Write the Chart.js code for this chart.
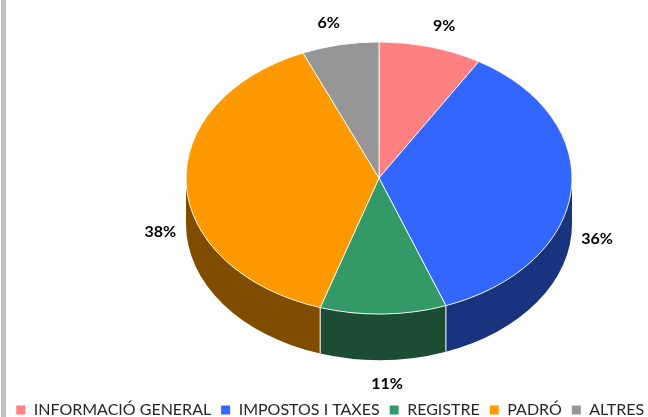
<!DOCTYPE html>
<html>
<head>
<meta charset="utf-8">
<style>
html,body{margin:0;padding:0;background:#fff;overflow:hidden;width:648px;height:417px}
#bar{position:absolute;left:1px;top:0;width:5px;height:417px;background:#bfbfbf}
canvas{position:absolute;left:-10px;top:0}
</style>
<script src="https://cdn.jsdelivr.net/npm/chart.js@4/dist/chart.umd.min.js"></script>
</head>
<body>
<div id="bar"></div>
<canvas id="c" width="680" height="417"></canvas>
<script>
const categories = ['INFORMACIÓ GENERAL','IMPOSTOS I TAXES','REGISTRE','PADRÓ','ALTRES'];
const values = [8.6,35.5,10.5,38.4,6.4];
const topColors = ['#FF8080','#3366FF','#339966','#FF9900','#969696'];
const sideColors = ['#804040','#19337F','#1C4D33','#804D00','#4B4B4B'];

const tilt = 0.705, depth = 46, centerX = 389, centerY = 178;
const pct = v => Math.round(v)+'%';

const pie3d = {
  id:'pie3d',
  beforeDatasetsDraw(chart){
    const ctx = chart.ctx, arcs = chart.getDatasetMeta(0).data;
    ctx.save();
    arcs.forEach((a,i)=>{
      const rx = a.outerRadius, ry = rx*tilt;
      const s = Math.max(a.startAngle,0), e = Math.min(a.endAngle,Math.PI);
      if(e<=s) return;
      ctx.beginPath();
      ctx.ellipse(centerX,centerY+depth,rx,ry,0,s,e,false);
      ctx.ellipse(centerX,centerY,rx,ry,0,e,s,true);
      ctx.closePath();
      ctx.fillStyle = sideColors[i];
      ctx.fill();
    });
    ctx.strokeStyle = '#fff';
    ctx.lineWidth = 1;
    arcs.forEach(a=>{
      const rx = a.outerRadius, ry = rx*tilt, t = a.endAngle;
      if(t>0 && t<Math.PI){
        const x = centerX+rx*Math.cos(t), y = centerY+ry*Math.sin(t);
        ctx.beginPath(); ctx.moveTo(x,y); ctx.lineTo(x,y+depth); ctx.stroke();
      }
    });
    ctx.restore();
    const a0 = arcs[0];
    ctx.save();
    ctx.translate(centerX,centerY);
    ctx.scale(1,tilt);
    ctx.translate(-a0.x,-a0.y);
  },
  afterDatasetsDraw(chart){
    const ctx = chart.ctx, arcs = chart.getDatasetMeta(0).data;
    ctx.restore();
    ctx.save();
    ctx.font = 'bold 16px Lato';
    ctx.fillStyle = '#000';
    ctx.textAlign = 'center';
    ctx.textBaseline = 'middle';
    arcs.forEach((a,i)=>{
      const m = (a.startAngle+a.endAngle)/2;
      const rx = a.outerRadius, ry = rx*tilt;
      const c = Math.cos(m), sn = Math.sin(m);
      const x = centerX+rx*c+Math.sign(c)*Math.sqrt(Math.abs(c))*26;
      const y = centerY+ry*sn+sn*(sn>0?24:22)+(sn>0?depth:0);
      ctx.fillText(pct(values[i]),x,y);
    });
    ctx.restore();
  }
};

new Chart(document.getElementById('c'),{
  type:'pie',
  data:{labels:categories,datasets:[{
    data:values,
    backgroundColor:topColors,
    borderColor:'#fff',
    borderWidth:1,
    radius:193,
    clip:false
  }]},
  options:{
    responsive:false,
    animation:false,
    layout:{padding:{left:0,right:0,top:0,bottom:-11}},
    plugins:{
      tooltip:{enabled:false},
      legend:{
        position:'bottom',
        align:'center',
        labels:{
          boxWidth:10,boxHeight:10,padding:9.5,
          color:'#262626',
          font:{family:'Lato',size:16}
        }
      }
    }
  },
  plugins:[pie3d]
});
</script>
</body>
</html>
